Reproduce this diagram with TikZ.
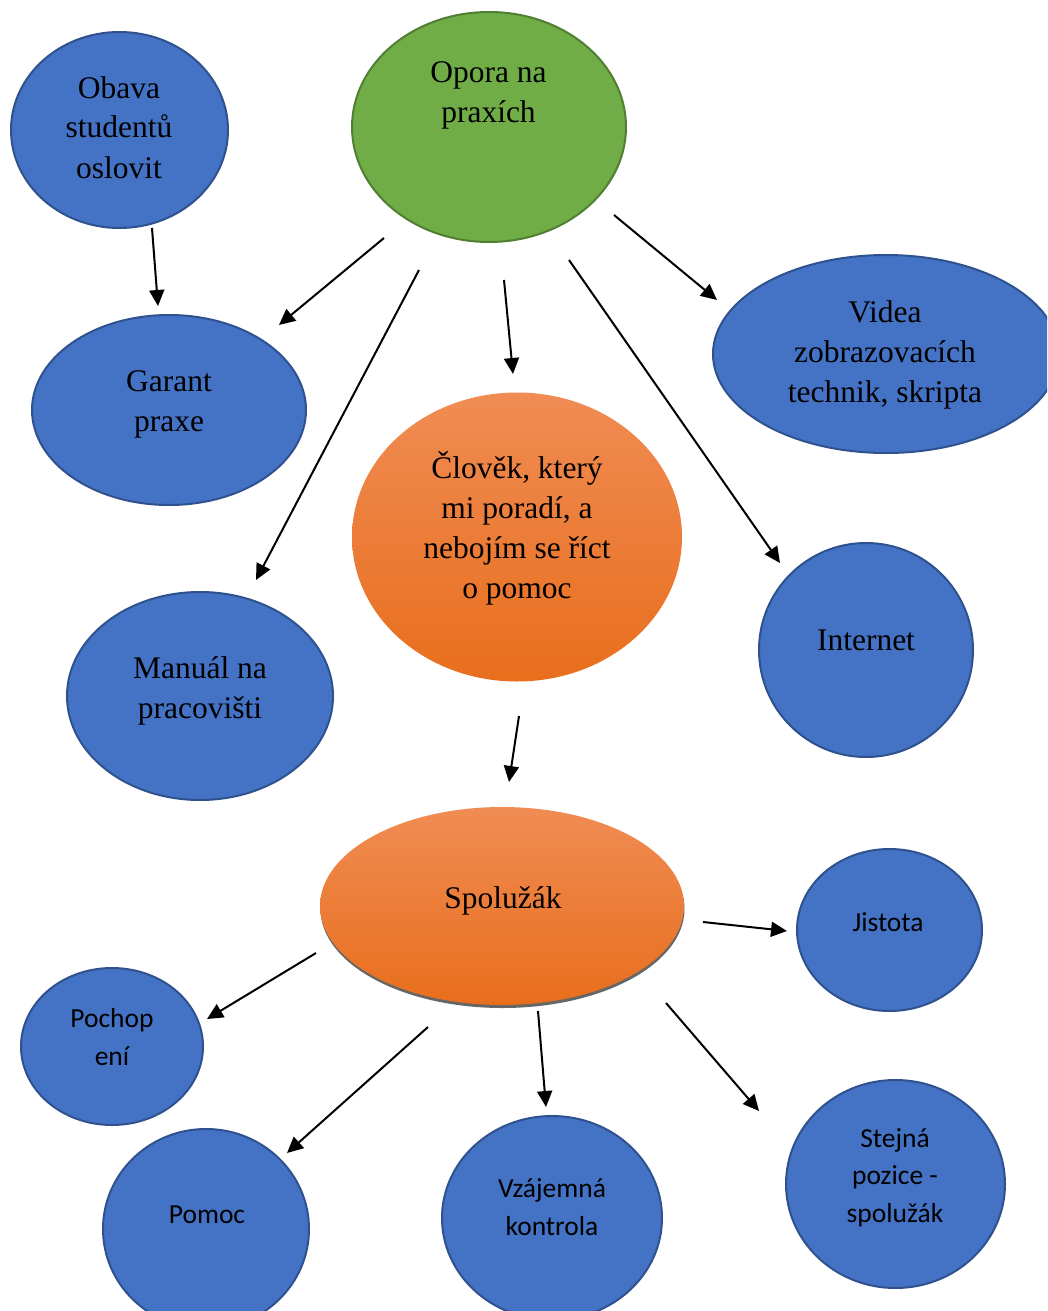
\documentclass[tikz,border=0pt]{standalone}
\usepackage{fontspec}
\setmainfont{Liberation Serif}
\newfontfamily\calib{Carlito}
\usetikzlibrary{arrows.meta,shadows,shapes.geometric}
\definecolor{blueF}{HTML}{4472C4}
\definecolor{blueD}{HTML}{2F528F}
\definecolor{greenF}{HTML}{70AD47}
\definecolor{greenD}{HTML}{507E32}
\definecolor{orA}{RGB}{240,140,84}
\definecolor{orB}{RGB}{243,126,42}
\definecolor{orC}{RGB}{232,110,28}
\tikzset{
  bub/.style={ellipse, draw=blueD, fill=blueF, line width=2pt, inner sep=0pt},
  gbub/.style={ellipse, draw=greenD, fill=greenF, line width=2pt, inner sep=0pt},
  obub/.style={ellipse, top color=orA, middle color=orB, bottom color=orC, inner sep=0pt},
  sz/.style 2 args={minimum width=#1pt, minimum height=#2pt},
  stx/.style={align=center, anchor=base, inner sep=0pt, font=\fontsize{31.5}{40}\selectfont},
  ctx/.style={align=center, anchor=base, inner sep=0pt, font=\calib\fontsize{27.5}{37.5}\selectfont},
  arr/.style={line width=2pt, -{Triangle[length=16pt,width=15pt]}}
}
\begin{document}
\begin{tikzpicture}[x=1pt,y=-1pt]
\useasboundingbox (0,0) rectangle (1047,1311);
\clip (0,0) rectangle (1047,1311);
\fill[white] (0,0) rectangle (1047,1311);

% ellipses
\node[bub, sz={217}{196}] (obava) at (119.5,130) {};
\node[gbub, sz={274}{230}] (opora) at (489,127) {};
\node[bub, sz={274}{190}] (garant) at (169,410) {};
\node[bub, sz={346}{198}] (videa) at (886,354) {};
\node[obub, sz={330}{289}] (clovek) at (517,537) {};
\node[bub, sz={266}{208}] (manual) at (200,696) {};
\node[bub, sz={214}{214}] (internet) at (866,650) {};
\node[obub, sz={364}{198}, drop shadow={shadow xshift=0.5pt, shadow yshift=-3pt, opacity=1, fill=black!60}] (spoluzak) at (502,906) {};
\node[bub, sz={185}{162}] (jistota) at (889.5,930) {};
\node[bub, sz={182}{157}] (pochopeni) at (112,1046.5) {};
\node[bub, sz={206}{200}] (pomoc) at (206,1229) {};
\node[bub, sz={220}{204}] (vzajemna) at (552,1218) {};
\node[bub, sz={219}{208}] (stejna) at (895.5,1184) {};

% texts (anchored at the baseline of the last line)
\node[stx] (tobava) at (119,178) {Obava\\studentů\\oslovit};
\node[stx] (topora) at (488.5,123) {Opora na\\praxích};
\node[stx] (tgarant) at (169,431) {Garant\\praxe};
\node[stx] (tvidea) at (885,402) {Videa\\zobrazovacích\\technik, skripta};
\node[stx] (tclovek) at (517,598) {Člověk, který\\mi poradí, a\\nebojím se říct\\o pomoc};
\node[stx] (tmanual) at (200,718) {Manuál na\\pracovišti};
\node[stx] (tinternet) at (866,650) {Internet};
\node[stx] (tspoluzak) at (503,908) {Spolužák};
\node[ctx] (tjistota) at (888,931) {Jistota};
\node[ctx] (tpochopeni) at (112,1065) {Pochop\\ení};
\node[ctx] (tpomoc) at (207,1223) {Pomoc};
\node[ctx] (tvzajemna) at (552,1235) {Vzájemná\\kontrola};
\node[ctx] (tstejna) at (895,1222) {Stejná\\pozice -\\spolužák};

% arrow end points
\coordinate (a1s) at (152,228);  \coordinate (a1e) at (158,306);
\coordinate (a2s) at (384,238);  \coordinate (a2e) at (279,325);
\coordinate (a3s) at (419,270);  \coordinate (a3e) at (256,580);
\coordinate (a4s) at (504,280);  \coordinate (a4e) at (513,374);
\coordinate (a5s) at (569,260);  \coordinate (a5e) at (780,563);
\coordinate (a6s) at (614,215);  \coordinate (a6e) at (717,300);
\coordinate (a7s) at (519,716);  \coordinate (a7e) at (509,782);
\coordinate (b1s) at (703,922);  \coordinate (b1e) at (787,931);
\coordinate (b2s) at (316,953);  \coordinate (b2e) at (207,1019);
\coordinate (b3s) at (428,1027); \coordinate (b3e) at (287,1153);
\coordinate (b4s) at (538,1011); \coordinate (b4e) at (546,1107);
\coordinate (b5s) at (666,1003); \coordinate (b5e) at (759,1111);

\draw[arr] (a1s) -- (a1e);
\draw[arr] (a2s) -- (a2e);
\draw[arr] (a3s) -- (a3e);
\draw[arr] (a4s) -- (a4e);
\draw[arr] (a5s) -- (a5e);
\draw[arr] (a6s) -- (a6e);
\draw[arr] (a7s) -- (a7e);
\draw[arr] (b1s) -- (b1e);
\draw[arr] (b2s) -- (b2e);
\draw[arr] (b3s) -- (b3e);
\draw[arr] (b4s) -- (b4e);
\draw[arr] (b5s) -- (b5e);
\end{tikzpicture}
\end{document}
